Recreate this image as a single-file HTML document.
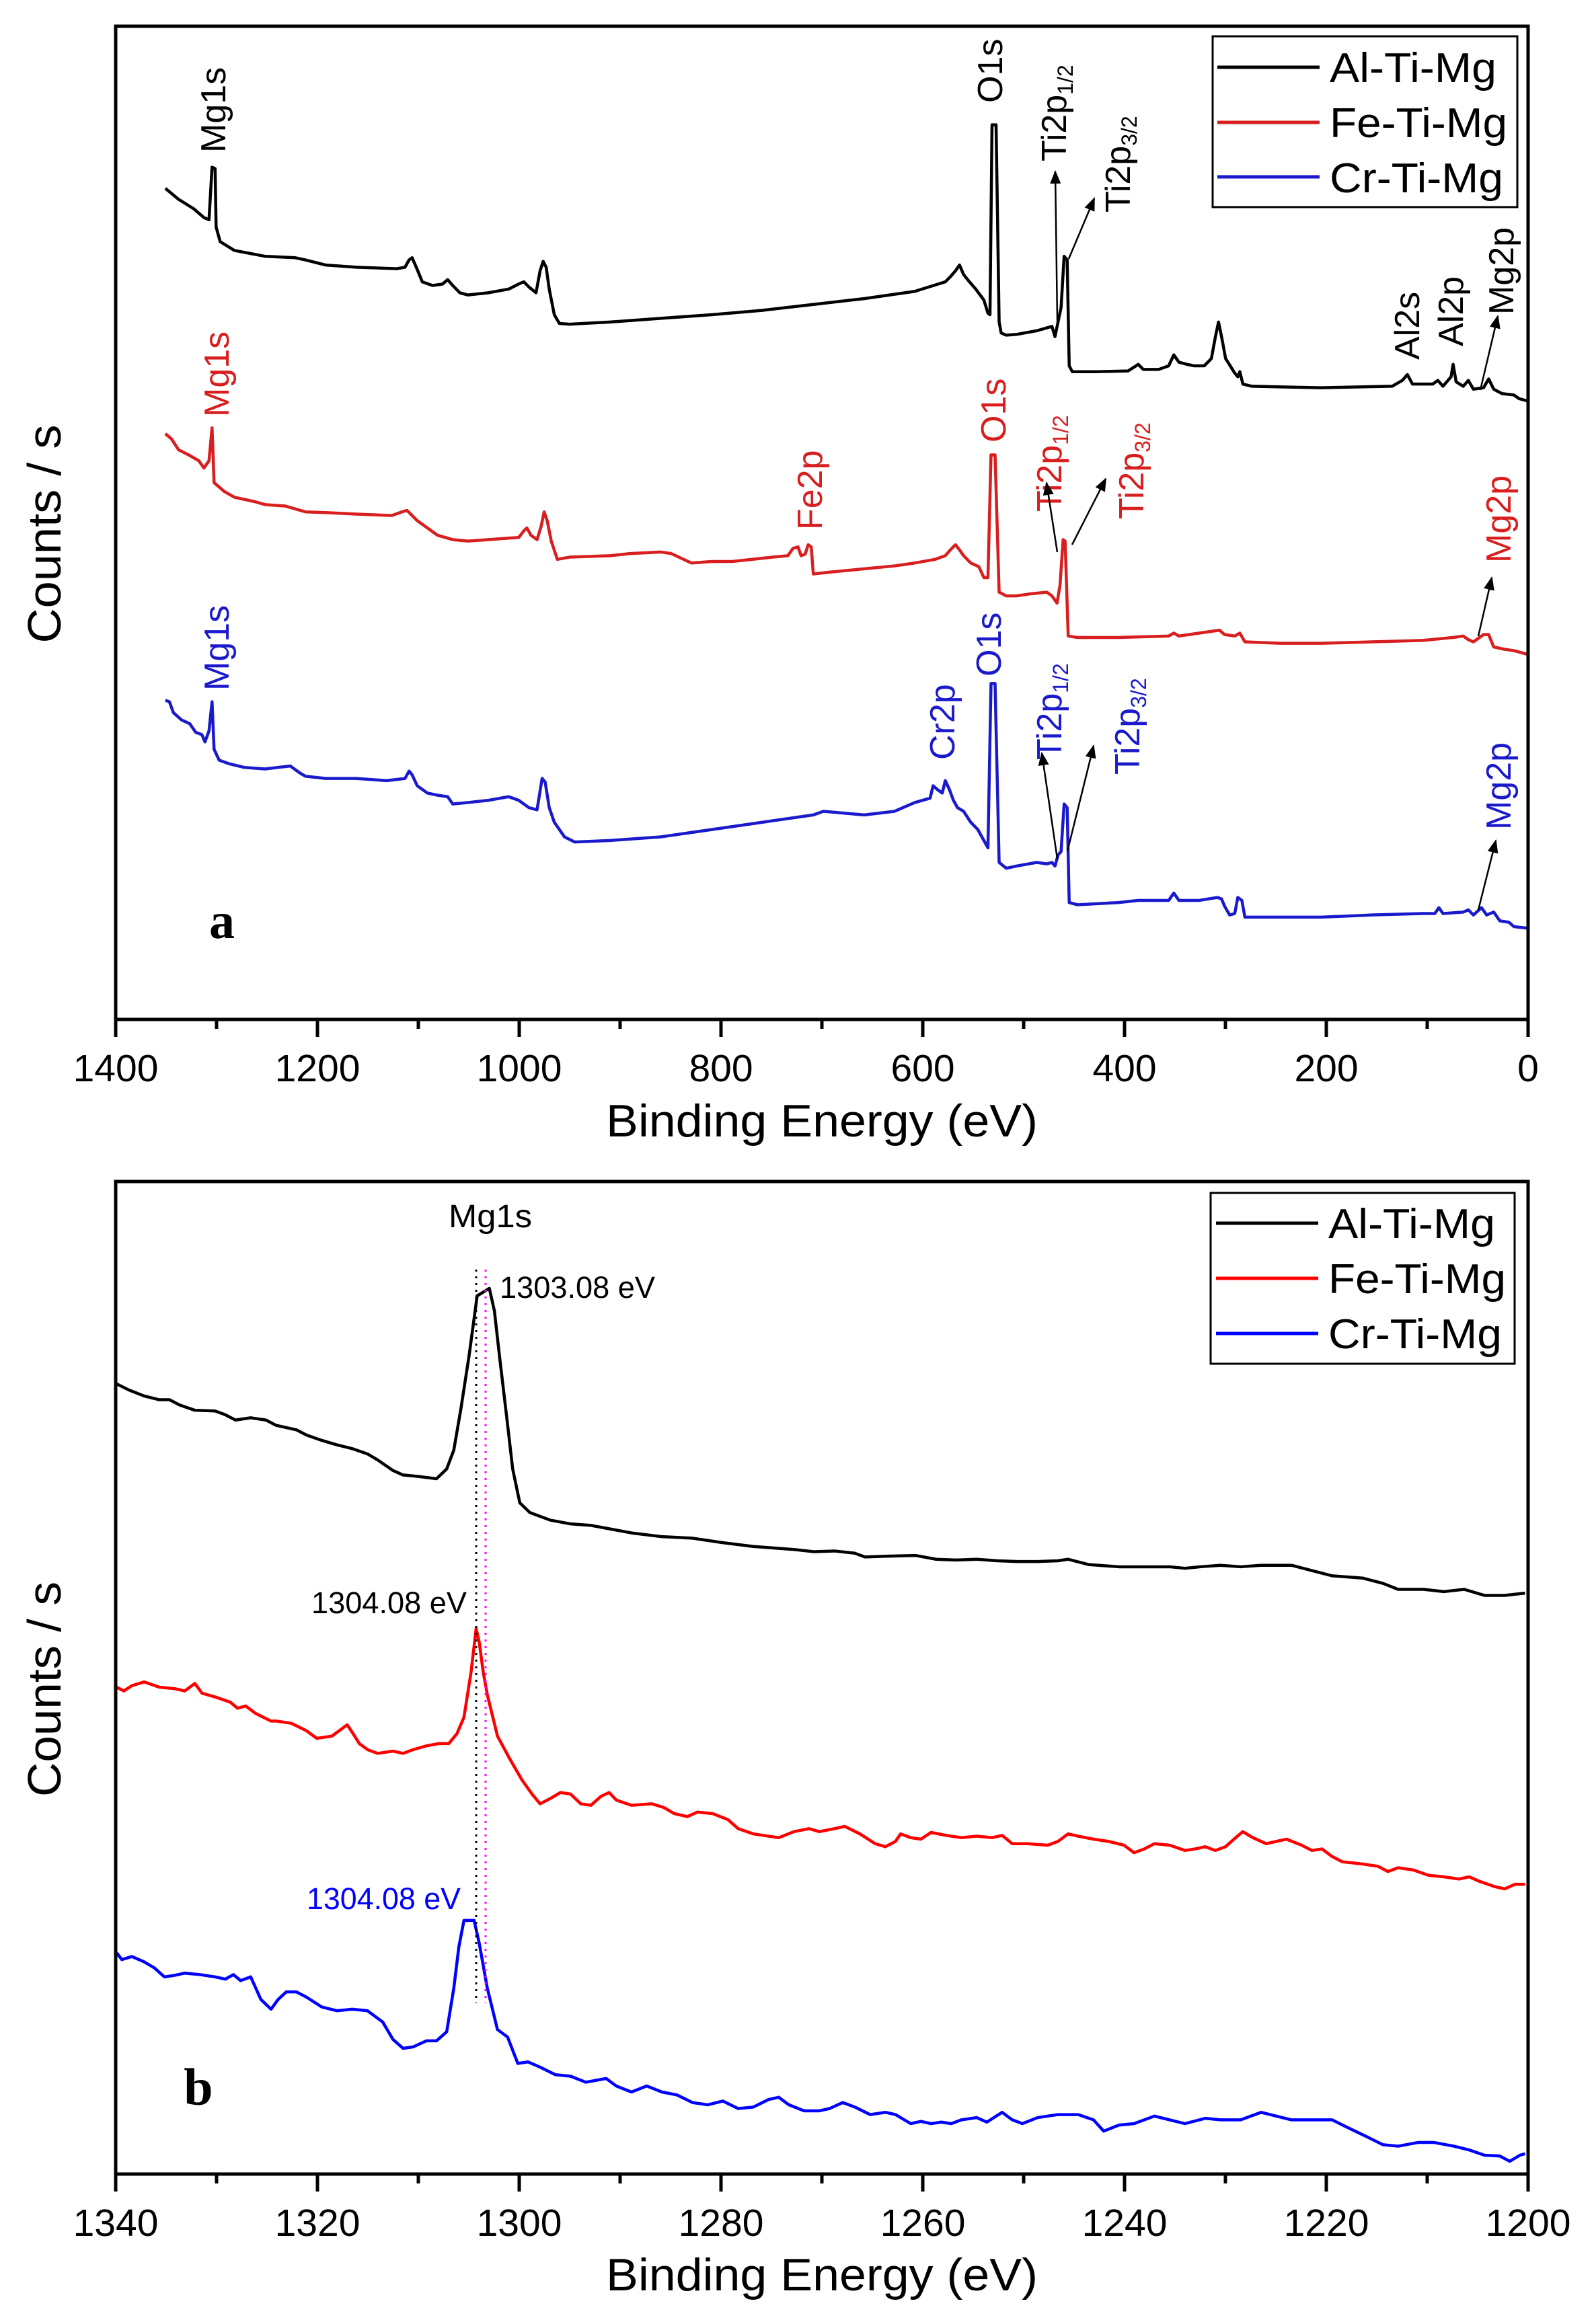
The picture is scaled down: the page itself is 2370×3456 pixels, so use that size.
<!DOCTYPE html>
<html><head><meta charset="utf-8"><style>html,body{margin:0;padding:0;background:#fff}svg{display:block}</style></head><body>
<svg xmlns="http://www.w3.org/2000/svg" width="2370" height="3456" viewBox="0 0 2370 3456" font-family="Liberation Sans, sans-serif">
<defs>
<marker id="ahb" viewBox="0 0 10 10" refX="9" refY="5" markerWidth="24" markerHeight="20" markerUnits="userSpaceOnUse" orient="auto"><path d="M0,1 L10,5 L0,9 z" fill="#000"/></marker>
</defs>
<rect width="2370" height="3456" fill="#fff"/>

<g fill="none" stroke-linejoin="round" transform="matrix(1.51,0,0,1.086,1.2,1)">
<polyline vector-effect="non-scaling-stroke" stroke="#000" stroke-width="4.5" points="162,257 175,272 190,285 200,297 205,300 208,228 211,230 212,310 216,330 230,342 260,350 290,352 300,355 320,362 350,365 390,367 398,365 402,355 405,352 410,368 415,385 425,390 435,388 440,382 445,390 452,400 460,403 480,400 500,395 510,388 515,385 520,392 527,400 531,370 534,357 537,365 540,395 545,430 550,442 560,443 600,440 650,435 700,430 750,424 800,416 850,408 900,398 930,385 935,378 940,370 944,362 948,375 952,382 960,395 968,410 972,428 974,430 976,170 980,170 983,440 985,455 990,458 1000,457 1020,452 1030,448 1035,446 1038,460 1041,440 1044,420 1047,350 1050,355 1052,500 1055,508 1080,508 1110,507 1120,498 1125,505 1140,505 1150,500 1155,485 1160,495 1168,498 1175,500 1185,500 1192,490 1196,460 1199,440 1202,460 1206,490 1215,510 1218,515 1220,508 1223,525 1232,528 1300,530 1370,528 1380,520 1385,512 1390,525 1410,525 1415,520 1420,528 1428,515 1430,498 1433,522 1440,528 1445,520 1450,532 1460,530 1465,518 1470,532 1478,538 1490,540 1495,545 1503,548"/>
<polyline vector-effect="non-scaling-stroke" stroke="#d81e1e" stroke-width="4.5" points="162,593 168,600 175,615 185,622 195,630 200,640 205,630 208,585 210,660 220,672 230,680 250,686 260,690 280,692 300,700 320,701 350,703 385,705 395,700 400,698 405,705 410,712 420,722 430,732 445,738 460,740 480,738 500,736 510,735 515,726 518,722 522,732 528,738 532,720 535,700 538,712 542,740 548,765 560,762 600,760 620,757 650,755 660,757 680,770 700,768 720,768 740,765 760,762 775,760 780,750 785,748 788,760 792,758 795,745 798,748 800,785 820,782 850,778 880,774 900,770 920,765 930,760 935,752 940,745 944,752 948,760 955,770 963,775 968,790 972,790 975,622 979,622 983,810 990,815 1000,815 1015,812 1030,810 1035,815 1040,825 1043,800 1046,738 1048,740 1051,870 1060,872 1100,872 1150,870 1155,866 1160,870 1200,862 1205,868 1215,870 1220,866 1225,878 1260,880 1300,880 1350,878 1400,876 1430,872 1440,870 1445,875 1450,878 1460,868 1465,868 1470,885 1480,888 1490,890 1503,895"/>
<polyline vector-effect="non-scaling-stroke" stroke="#1a1acc" stroke-width="4.5" points="162,958 166,960 170,975 178,985 186,990 192,1002 198,1005 201,1015 205,1000 208,960 210,1025 215,1040 225,1045 240,1050 260,1052 285,1048 295,1058 300,1062 320,1065 350,1065 380,1068 398,1065 402,1055 405,1060 410,1075 420,1085 430,1088 440,1090 445,1100 460,1098 480,1095 500,1090 510,1095 520,1105 528,1108 533,1065 536,1070 540,1105 545,1125 555,1145 565,1152 600,1150 650,1145 700,1135 750,1125 800,1115 810,1110 850,1115 880,1110 900,1098 915,1092 918,1075 922,1080 927,1085 930,1068 934,1080 938,1095 942,1105 948,1110 955,1125 962,1135 968,1150 972,1160 975,935 979,935 983,1180 990,1188 1000,1185 1020,1180 1030,1182 1035,1180 1038,1185 1041,1170 1044,1165 1047,1100 1050,1105 1052,1235 1060,1238 1100,1235 1120,1232 1150,1232 1155,1222 1160,1232 1180,1232 1198,1228 1202,1230 1205,1240 1210,1252 1215,1250 1218,1228 1222,1232 1225,1255 1240,1255 1300,1255 1350,1252 1400,1250 1412,1250 1416,1242 1420,1250 1440,1248 1445,1245 1450,1252 1458,1242 1463,1252 1470,1248 1476,1260 1485,1262 1490,1268 1503,1270"/>
</g>
<rect x="172" y="39" width="2100" height="1477" fill="none" stroke="#000" stroke-width="5"/>
<g stroke="#000" stroke-width="5">
<line x1="172" y1="1516" x2="172" y2="1542"/><line x1="472" y1="1516" x2="472" y2="1542"/><line x1="772" y1="1516" x2="772" y2="1542"/><line x1="1072" y1="1516" x2="1072" y2="1542"/><line x1="1372" y1="1516" x2="1372" y2="1542"/><line x1="1672" y1="1516" x2="1672" y2="1542"/><line x1="1972" y1="1516" x2="1972" y2="1542"/><line x1="2272" y1="1516" x2="2272" y2="1542"/>
<line x1="322" y1="1516" x2="322" y2="1530"/><line x1="622" y1="1516" x2="622" y2="1530"/><line x1="922" y1="1516" x2="922" y2="1530"/><line x1="1222" y1="1516" x2="1222" y2="1530"/><line x1="1522" y1="1516" x2="1522" y2="1530"/><line x1="1822" y1="1516" x2="1822" y2="1530"/><line x1="2122" y1="1516" x2="2122" y2="1530"/>
</g>
<g font-size="57" text-anchor="middle" fill="#000">
<text x="172" y="1608">1400</text><text x="472" y="1608">1200</text><text x="772" y="1608">1000</text><text x="1072" y="1608">800</text><text x="1372" y="1608">600</text><text x="1672" y="1608">400</text><text x="1972" y="1608">200</text><text x="2272" y="1608">0</text>
</g>
<text x="1222" y="1690" font-size="68" text-anchor="middle" textLength="642" lengthAdjust="spacingAndGlyphs">Binding Energy (eV)</text>
<text transform="translate(90,794) rotate(-90)" font-size="70" text-anchor="middle" textLength="325" lengthAdjust="spacingAndGlyphs">Counts / s</text>
<rect x="1803" y="54" width="453" height="254" fill="#fff" stroke="#000" stroke-width="3"/>
<line x1="1810" y1="100" x2="1962" y2="100" stroke="#000" stroke-width="5"/>
<line x1="1810" y1="182" x2="1962" y2="182" stroke="#d81e1e" stroke-width="5"/>
<line x1="1810" y1="263" x2="1962" y2="263" stroke="#1a1acc" stroke-width="5"/>
<g font-size="62"><text x="1977" y="122" textLength="248" lengthAdjust="spacingAndGlyphs">Al-Ti-Mg</text><text x="1977" y="204" textLength="264" lengthAdjust="spacingAndGlyphs">Fe-Ti-Mg</text><text x="1977" y="286" textLength="258" lengthAdjust="spacingAndGlyphs">Cr-Ti-Mg</text></g>
<text x="330" y="1395" font-family="Liberation Serif, serif" font-weight="bold" font-size="76" text-anchor="middle">a</text>

<g font-size="52">
<text transform="translate(335,227) rotate(-90)">Mg1s</text>
<text transform="translate(1490,153) rotate(-90)">O1s</text>
<text transform="translate(1585,240) rotate(-90)">Ti2p<tspan font-size="32" dy="10">1/2</tspan></text>
<text transform="translate(1680,316) rotate(-90)">Ti2p<tspan font-size="32" dy="10">3/2</tspan></text>
<text transform="translate(2110,535) rotate(-90)">Al2s</text>
<text transform="translate(2175,515) rotate(-90)">Al2p</text>
<text transform="translate(2250,468) rotate(-90)">Mg2p</text>
</g>
<g font-size="52" fill="#d81e1e">
<text transform="translate(340,620) rotate(-90)">Mg1s</text>
<text transform="translate(1222,788) rotate(-90)">Fe2p</text>
<text transform="translate(1495,658) rotate(-90)">O1s</text>
<text transform="translate(1578,761) rotate(-90)">Ti2p<tspan font-size="32" dy="10">1/2</tspan></text>
<text transform="translate(1700,772) rotate(-90)">Ti2p<tspan font-size="32" dy="10">3/2</tspan></text>
<text transform="translate(2246,837) rotate(-90)">Mg2p</text>
</g>
<g font-size="52" fill="#1a1acc">
<text transform="translate(340,1027) rotate(-90)">Mg1s</text>
<text transform="translate(1419,1130) rotate(-90)">Cr2p</text>
<text transform="translate(1488,1006) rotate(-90)">O1s</text>
<text transform="translate(1578,1130) rotate(-90)">Ti2p<tspan font-size="32" dy="10">1/2</tspan></text>
<text transform="translate(1694,1152) rotate(-90)">Ti2p<tspan font-size="32" dy="10">3/2</tspan></text>
<text transform="translate(2246,1234) rotate(-90)">Mg2p</text>
</g>
<g stroke="#000" stroke-width="2.5" marker-end="url(#ahb)">
<line x1="1572" y1="477" x2="1569" y2="255"/>
<line x1="1589" y1="385" x2="1627" y2="295"/>
<line x1="2201" y1="580" x2="2227" y2="470"/>
<line x1="1572" y1="821" x2="1556" y2="718"/>
<line x1="1594" y1="810" x2="1644" y2="712"/>
<line x1="2198" y1="946" x2="2218" y2="859"/>
<line x1="1572" y1="1277" x2="1549" y2="1120"/>
<line x1="1587" y1="1266" x2="1626" y2="1109"/>
<line x1="2198" y1="1353" x2="2224" y2="1250"/>
</g>

<g fill="none" stroke-linejoin="round" transform="matrix(1.5097,0,0,1.119,2.9,1703.3)">
<polyline vector-effect="non-scaling-stroke" stroke="#000" stroke-width="4.5" points="113,317 125,325 140,333 155,338 165,338 175,345 190,352 210,353 220,358 230,365 245,362 260,365 270,372 280,375 290,378 300,385 315,392 330,398 345,403 360,410 370,418 385,432 395,438 410,440 428,443 438,430 445,405 452,350 460,280 468,200 474,195 480,190 485,220 490,280 497,360 503,430 510,475 520,488 540,498 560,503 580,505 600,510 620,515 650,520 680,522 710,528 740,533 760,535 780,537 800,540 820,539 840,542 850,547 870,546 900,545 920,550 940,551 960,550 980,552 1000,553 1020,553 1040,552 1050,550 1070,557 1100,560 1120,560 1150,560 1165,562 1180,560 1200,558 1220,560 1240,558 1270,558 1290,565 1310,572 1340,575 1360,582 1375,590 1400,590 1420,593 1440,590 1460,598 1480,598 1500,595"/>
<polyline vector-effect="non-scaling-stroke" stroke="#ff0000" stroke-width="4.5" points="113,720 120,725 128,718 140,713 155,720 170,722 180,725 190,715 197,728 210,733 225,740 232,748 240,745 250,755 265,765 270,765 285,768 300,778 310,788 325,785 335,775 340,770 345,780 352,795 360,803 370,808 385,805 395,808 405,803 418,798 430,795 440,795 448,782 455,760 462,700 467,642 470,660 474,700 478,730 488,785 500,815 512,843 522,862 530,875 540,868 550,860 560,862 570,875 580,877 590,865 598,860 605,870 620,877 640,875 652,880 662,888 675,892 685,886 700,888 715,896 725,908 740,915 755,918 765,920 780,912 795,908 805,912 820,908 830,905 845,915 860,928 870,932 880,925 885,915 895,920 905,922 915,913 930,917 945,920 960,918 975,920 985,917 995,928 1010,928 1030,930 1040,925 1050,915 1060,918 1075,922 1090,925 1105,930 1115,940 1125,935 1135,928 1150,930 1165,937 1175,935 1185,932 1195,937 1205,932 1215,920 1222,912 1232,920 1245,928 1255,925 1265,922 1280,930 1290,937 1300,935 1310,945 1320,952 1340,955 1355,958 1365,965 1375,960 1390,963 1405,970 1420,972 1435,975 1445,972 1455,978 1470,985 1480,988 1490,982 1500,982"/>
<polyline vector-effect="non-scaling-stroke" stroke="#0000ff" stroke-width="4.5" points="113,1073 118,1082 128,1078 140,1085 150,1093 160,1105 170,1103 180,1100 195,1102 210,1105 220,1108 228,1102 235,1110 245,1105 255,1135 265,1148 272,1135 280,1125 290,1125 300,1132 315,1145 330,1150 345,1148 360,1150 375,1165 385,1188 395,1200 405,1198 418,1190 428,1190 438,1178 445,1120 450,1065 455,1030 465,1030 470,1060 478,1120 488,1175 498,1185 508,1220 518,1218 530,1225 545,1235 560,1237 575,1245 595,1240 605,1250 620,1258 635,1250 650,1258 665,1262 680,1272 695,1275 710,1270 725,1280 740,1278 755,1268 765,1265 775,1275 790,1283 805,1283 815,1280 828,1272 840,1278 855,1288 870,1285 880,1288 895,1300 905,1297 915,1300 925,1298 935,1300 945,1295 960,1292 970,1298 985,1285 995,1295 1005,1300 1020,1292 1040,1288 1060,1288 1075,1295 1085,1310 1100,1302 1115,1300 1135,1290 1150,1295 1165,1300 1185,1293 1200,1295 1220,1295 1240,1285 1255,1290 1270,1295 1290,1295 1310,1295 1325,1305 1345,1318 1360,1328 1375,1330 1395,1325 1410,1325 1430,1330 1445,1335 1460,1342 1475,1343 1485,1350 1495,1342 1500,1340"/>
</g>
<line x1="708" y1="1888" x2="708" y2="2979" stroke="#000" stroke-width="3" stroke-dasharray="3,7"/>
<line x1="722" y1="1888" x2="722" y2="2979" stroke="#ff00ff" stroke-width="3" stroke-dasharray="3,7"/>
<rect x="172" y="1757" width="2100" height="1476" fill="none" stroke="#000" stroke-width="5"/>
<g stroke="#000" stroke-width="5">
<line x1="172" y1="3233" x2="172" y2="3259"/><line x1="472" y1="3233" x2="472" y2="3259"/><line x1="772" y1="3233" x2="772" y2="3259"/><line x1="1072" y1="3233" x2="1072" y2="3259"/><line x1="1372" y1="3233" x2="1372" y2="3259"/><line x1="1672" y1="3233" x2="1672" y2="3259"/><line x1="1972" y1="3233" x2="1972" y2="3259"/><line x1="2272" y1="3233" x2="2272" y2="3259"/>
<line x1="322" y1="3233" x2="322" y2="3247"/><line x1="622" y1="3233" x2="622" y2="3247"/><line x1="922" y1="3233" x2="922" y2="3247"/><line x1="1222" y1="3233" x2="1222" y2="3247"/><line x1="1522" y1="3233" x2="1522" y2="3247"/><line x1="1822" y1="3233" x2="1822" y2="3247"/><line x1="2122" y1="3233" x2="2122" y2="3247"/>
</g>
<g font-size="57" text-anchor="middle">
<text x="172" y="3325">1340</text><text x="472" y="3325">1320</text><text x="772" y="3325">1300</text><text x="1072" y="3325">1280</text><text x="1372" y="3325">1260</text><text x="1672" y="3325">1240</text><text x="1972" y="3325">1220</text><text x="2272" y="3325">1200</text>
</g>
<text x="1222" y="3406" font-size="68" text-anchor="middle" textLength="642" lengthAdjust="spacingAndGlyphs">Binding Energy (eV)</text>
<text transform="translate(90,2512) rotate(-90)" font-size="70" text-anchor="middle" textLength="320" lengthAdjust="spacingAndGlyphs">Counts / s</text>
<rect x="1800" y="1774" width="452" height="254" fill="#fff" stroke="#000" stroke-width="3"/>
<line x1="1808" y1="1819" x2="1960" y2="1819" stroke="#000" stroke-width="5"/>
<line x1="1808" y1="1901" x2="1960" y2="1901" stroke="#ff0000" stroke-width="5"/>
<line x1="1808" y1="1983" x2="1960" y2="1983" stroke="#0000ff" stroke-width="5"/>
<g font-size="62"><text x="1975" y="1841" textLength="248" lengthAdjust="spacingAndGlyphs">Al-Ti-Mg</text><text x="1975" y="1923" textLength="264" lengthAdjust="spacingAndGlyphs">Fe-Ti-Mg</text><text x="1975" y="2005" textLength="258" lengthAdjust="spacingAndGlyphs">Cr-Ti-Mg</text></g>
<text x="729" y="1825" font-size="48" text-anchor="middle" textLength="124" lengthAdjust="spacingAndGlyphs">Mg1s</text>
<text x="743" y="1930" font-size="45" textLength="231" lengthAdjust="spacingAndGlyphs">1303.08 eV</text>
<text x="463" y="2399" font-size="45" textLength="231" lengthAdjust="spacingAndGlyphs">1304.08 eV</text>
<text x="456" y="2839" font-size="45" fill="#0000ff" textLength="229" lengthAdjust="spacingAndGlyphs">1304.08 eV</text>
<text x="295" y="3130" font-family="Liberation Serif, serif" font-weight="bold" font-size="78" text-anchor="middle">b</text>
</svg>
</body></html>
